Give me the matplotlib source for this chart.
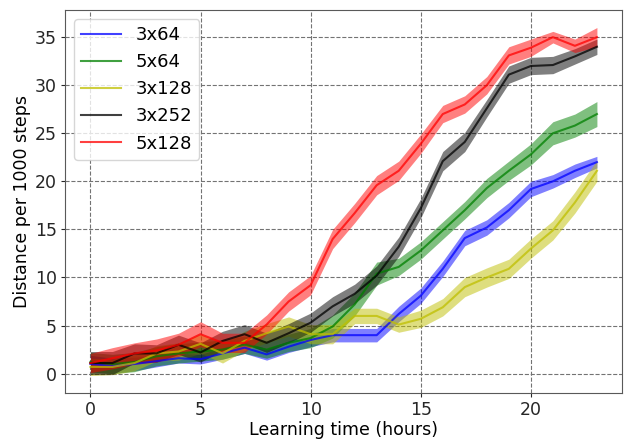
import numpy as np
import matplotlib
matplotlib.use("Agg")
import matplotlib.pyplot as plt

hours = list(range(24))

# mean distance per 1000 steps
mean_3x64 = [1.0, 0.8, 1.0, 1.3, 1.6, 1.5, 2.1, 2.7, 2.0, 2.8, 3.5, 4.0, 4.0, 4.0, 6.2, 8.1, 10.9, 14.1, 15.2, 17.0, 19.2, 20.0, 21.1, 22.0]
mean_5x64 = [1.2, 1.0, 1.2, 1.8, 2.1, 2.3, 2.5, 3.0, 2.5, 3.2, 3.7, 4.9, 7.2, 10.4, 11.1, 12.8, 14.9, 17.0, 19.3, 21.1, 22.8, 25.0, 25.8, 27.0]
mean_3x128 = [0.7, 0.7, 1.1, 2.1, 2.3, 3.1, 2.1, 3.4, 4.2, 4.9, 4.1, 4.1, 6.0, 6.0, 5.1, 5.7, 6.9, 9.0, 10.0, 10.9, 13.0, 14.9, 17.8, 21.1]
mean_3x252 = [1.1, 1.1, 2.1, 2.1, 3.0, 2.2, 3.4, 4.1, 3.2, 4.2, 5.3, 7.0, 8.3, 10.2, 13.2, 17.2, 22.1, 24.1, 27.6, 31.1, 32.0, 32.1, 33.0, 34.0]
mean_5x128 = [1.1, 1.6, 2.1, 2.4, 3.0, 4.1, 3.2, 3.2, 5.1, 7.5, 9.2, 14.0, 16.7, 19.6, 21.1, 23.9, 27.0, 28.0, 30.0, 33.1, 33.9, 35.0, 34.1, 35.0]

# half width of the shaded band
std_3x64 = [0.9, 0.8, 0.7, 0.6, 0.5, 0.5, 0.6, 0.6, 0.6, 0.6, 0.7, 0.7, 0.7, 0.7, 0.8, 0.8, 0.8, 0.8, 0.8, 0.8, 0.8, 0.7, 0.7, 0.6]
std_5x64 = [1.0, 1.0, 1.0, 1.0, 1.0, 1.0, 1.0, 0.9, 0.9, 0.9, 1.0, 1.2, 1.2, 1.2, 0.9, 0.9, 0.9, 0.9, 1.0, 1.0, 1.1, 1.2, 1.2, 1.3]
std_3x128 = [0.9, 0.8, 0.8, 0.8, 0.9, 1.0, 1.0, 1.0, 1.0, 1.0, 1.0, 1.0, 0.8, 0.8, 0.8, 0.9, 0.9, 1.0, 1.0, 1.0, 1.0, 1.0, 1.1, 1.1]
std_3x252 = [1.2, 1.2, 1.0, 0.9, 1.0, 1.0, 1.0, 1.0, 1.0, 1.0, 1.0, 1.0, 1.0, 1.0, 1.0, 1.0, 1.0, 1.0, 0.9, 0.9, 0.9, 0.9, 0.8, 0.8]
std_5x128 = [1.0, 1.1, 1.1, 1.2, 1.2, 1.3, 1.0, 1.0, 1.0, 1.0, 1.0, 1.0, 1.0, 1.0, 1.0, 1.0, 0.9, 0.9, 0.9, 0.9, 0.9, 0.6, 0.7, 1.0]

labels = ["3x64", "5x64", "3x128", "3x252", "5x128"]
colors = ["b", "g", "y", "k", "r"]
means = [mean_3x64, mean_5x64, mean_3x128, mean_3x252, mean_5x128]
stds = [std_3x64, std_5x64, std_3x128, std_3x252, std_5x128]

fig = plt.figure(figsize=(6.26, 4.41), dpi=100)
ax = fig.add_axes([0.104, 0.109, 0.89, 0.868])

for lab, c, m, s in zip(labels, colors, means, stds):
    m = np.array(m)
    s = np.array(s)
    ax.fill_between(hours, m - s, m + s, color=c, alpha=0.5, linewidth=0)
    ax.plot(hours, m, color=c, alpha=0.75, linewidth=1.5, label=lab)

ax.grid(True, linestyle="--", color="0.45", linewidth=0.8)
ax.set_axisbelow(True)
ax.set_xticks([0, 5, 10, 15, 20])
ax.set_yticks([0, 5, 10, 15, 20, 25, 30, 35])
ax.tick_params(labelsize=12.5, length=3, pad=3, colors="0.15")
for sp in ax.spines.values():
    sp.set_color("0.35")

ax.set_xlabel("Learning time (hours)", fontsize=12.5, labelpad=1)
ax.set_ylabel("Distance per 1000 steps", fontsize=12.5, labelpad=3)
ax.legend(loc="upper left", fontsize=13, handlelength=2.2)

fig.savefig("out.png", dpi=100)
